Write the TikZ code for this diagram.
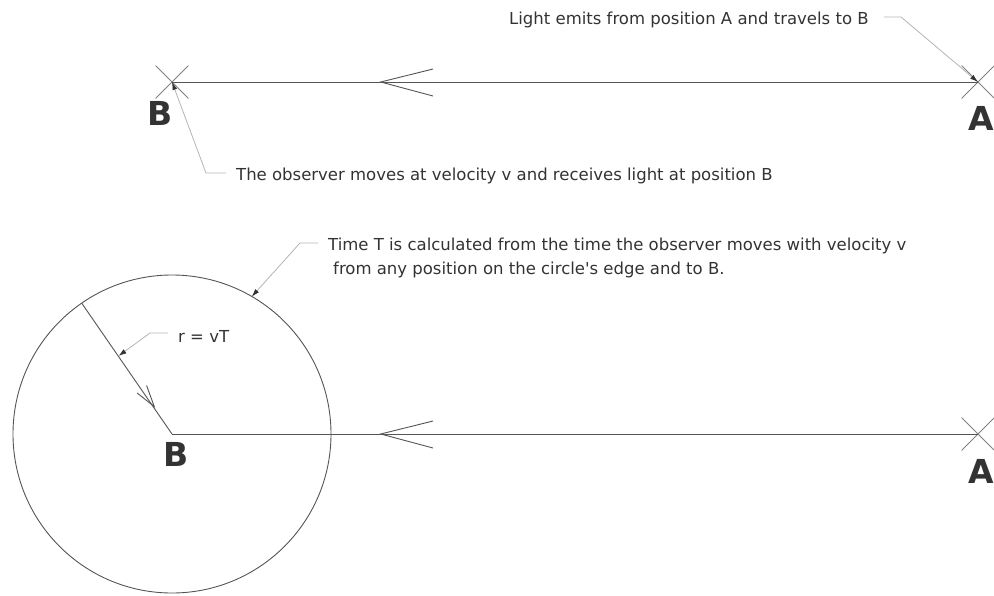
\documentclass[tikz,border=0pt]{standalone}
\usepackage{fontspec}
\setmainfont{DejaVu Sans}[Ligatures=TeXOff]
\usetikzlibrary{arrows.meta,shapes.misc}
\definecolor{lineg}{HTML}{555555}
\definecolor{crossg}{HTML}{808080}
\definecolor{leadg}{HTML}{B4B4B4}
\definecolor{txtg}{HTML}{333333}
\tikzset{
  mainline/.style={draw=lineg, line width=0.9pt},
  crossmark/.style={cross out, draw=crossg, line width=0.8pt, minimum size=32pt, inner sep=0pt},
  leader/.style={draw=leadg, line width=0.8pt, -{Latex[length=8pt,width=5pt,fill=txtg,color=txtg]}},
  note/.style={text=txtg, font=\fontsize{16.5}{20}\selectfont, inner sep=0pt, anchor=base west},
  bigletter/.style={text=txtg, font=\fontsize{33}{36}\bfseries\selectfont, inner sep=0pt, anchor=base west},
  chev/.style={draw=lineg, line width=0.9pt}
}
\begin{document}
\begin{tikzpicture}[x=1pt,y=-1pt]
\useasboundingbox (0,0) rectangle (994,595);
% ---------- top scene ----------
\node[crossmark] (B1) at (172,82) {};
\node[crossmark] (A1) at (978,82) {};
\draw[mainline] (A1.center) -- (B1.center);
\coordinate (T1) at (380.7,82);
\coordinate (T1a) at (433,69);
\coordinate (T1b) at (433,96);
\draw[chev] (T1a) -- (T1) -- (T1b);
\node[bigletter] (LB1) at (147,125) {B};
\node[bigletter] (LA1) at (968,130) {A};
\node[note] (N1) at (509,24) {Light emits from position A and travels to B};
\coordinate (N1a) at (884,17);
\coordinate (N1b) at (901,17);
\draw[leader] (N1a) -- (N1b) -- (A1.center);
\node[note] (N2) at (236,180) {The observer moves at velocity v and receives light at position B};
\coordinate (N2a) at (226,173);
\coordinate (N2b) at (206,173);
\draw[leader] (N2a) -- (N2b) -- (B1.center);
% ---------- bottom scene ----------
\coordinate (B2) at (172,434);
\node[crossmark] (A2) at (978,434) {};
\draw[mainline] (172,434) circle[radius=159];
\draw[mainline] (A2.center) -- (B2);
\coordinate (T2) at (380.7,434);
\coordinate (T2a) at (433,421);
\coordinate (T2b) at (433,448);
\draw[chev] (T2a) -- (T2) -- (T2b);
\coordinate (R) at (81.7,303.1);
\draw[mainline] (R) -- (B2);
\coordinate (T3) at (154.3,406.7);
\coordinate (T3a) at (137.2,393);
\coordinate (T3b) at (146.6,385.5);
\draw[chev] (T3a) -- (T3) -- (T3b);
\node[bigletter] (LB2) at (163,466) {B};
\node[bigletter] (LA2) at (968,483) {A};
\node[note] (N3) at (178,342) {r = vT};
\coordinate (N3a) at (168,333);
\coordinate (N3b) at (150,333);
\coordinate (N3c) at (118.5,356);
\draw[leader] (N3a) -- (N3b) -- (N3c);
\node[note] (N4) at (328,250) {Time T is calculated from the time the observer moves with velocity v};
\node[note] (N5) at (333,274) {from any position on the circle's edge and to B.};
\coordinate (N4a) at (318,243);
\coordinate (N4b) at (300,243);
\coordinate (N4c) at (251.7,296.7);
\draw[leader] (N4a) -- (N4b) -- (N4c);
\end{tikzpicture}
\end{document}
